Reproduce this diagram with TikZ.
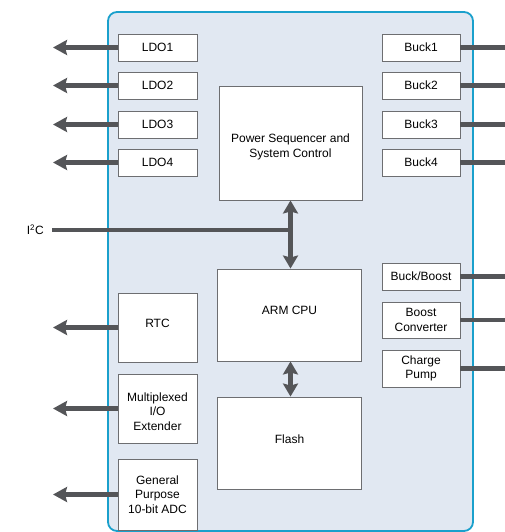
\documentclass[tikz,border=0pt]{standalone}
\usepackage{fontspec}
\setmainfont{Liberation Sans}
\usetikzlibrary{arrows.meta}
\definecolor{contfill}{HTML}{E1E8F2}
\definecolor{contline}{HTML}{1AA0CC}
\definecolor{boxline}{HTML}{6D6E71}
\definecolor{arrcol}{HTML}{545558}
\begin{document}
\begin{tikzpicture}[x=1pt,y=-1pt,
  blk/.style={draw=boxline, line width=0.9pt, fill=white, align=center,
    font=\fontsize{12}{14.5}\selectfont, inner sep=0pt},
  sig/.style={draw=arrcol, line width=4.2pt},
  outarr/.style={sig, -{Stealth[length=14pt,width=15pt,inset=2pt]}},
  biarr/.style={sig, {Stealth[length=13pt,width=15pt,inset=2pt]}-{Stealth[length=13pt,width=15pt,inset=2pt]}},
  lbl/.style={font=\fontsize{12}{14.5}\selectfont, inner sep=0pt, align=center}]
\useasboundingbox (0,0) rectangle (505,532);
% container
\draw[fill=contfill, draw=contline, line width=1.8pt, rounded corners=9pt] (108,12) rectangle (473,531);
% free ends
\coordinate (tipL) at (53,0);
\coordinate (edgeR) at (506,0);
% left blocks
\node[blk, minimum width=79pt, minimum height=27pt] (ldo1) at (157.5,47.5) {LDO1};
\node[blk, minimum width=79pt, minimum height=27pt] (ldo2) at (157.5,85.5) {LDO2};
\node[blk, minimum width=79pt, minimum height=27pt] (ldo3) at (157.5,124.5) {LDO3};
\node[blk, minimum width=79pt, minimum height=27pt] (ldo4) at (157.5,162.5) {LDO4};
\node[blk, minimum width=79pt, minimum height=69pt,
  label={[lbl,yshift=4pt]center:RTC}] (rtc) at (157.5,327.5) {};
\node[blk, minimum width=79pt, minimum height=69pt,
  label={[lbl,yshift=-3pt]center:Multiplexed\\I/O\\Extender}] (mux) at (157.5,408.5) {};
\node[blk, minimum width=79pt, minimum height=71pt] (adc) at (157.5,494.5) {General\\Purpose\\10-bit ADC};
% right blocks
\node[blk, minimum width=78pt, minimum height=27pt] (buck1) at (421,47.5) {Buck1};
\node[blk, minimum width=78pt, minimum height=27pt] (buck2) at (421,85.5) {Buck2};
\node[blk, minimum width=78pt, minimum height=27pt] (buck3) at (421,124.5) {Buck3};
\node[blk, minimum width=78pt, minimum height=27pt] (buck4) at (421,162.5) {Buck4};
\node[blk, minimum width=78pt, minimum height=27pt] (bb) at (421,276.5) {Buck/Boost};
\node[blk, minimum width=78pt, minimum height=36pt] (boost) at (421,320) {Boost\\Converter};
\node[blk, minimum width=78pt, minimum height=37pt] (cp) at (421,368.5) {Charge\\Pump};
% center blocks
\node[blk, minimum width=143pt, minimum height=114pt,
  label={[lbl,yshift=-4pt]center:Power Sequencer and\\System Control}] (psc) at (290.5,143) {};
\node[blk, minimum width=144pt, minimum height=92pt,
  label={[lbl,yshift=5pt]center:ARM CPU}] (arm) at (289.5,315) {};
\node[blk, minimum width=144pt, minimum height=92pt,
  label={[lbl,yshift=4pt]center:Flash}] (flash) at (289.5,443) {};
% I2C
\node[lbl, anchor=east] (i2c) at (44,230) {I\textsuperscript{2}C};
% left outputs
\foreach \n in {ldo1,ldo2,ldo3,ldo4,rtc,mux,adc}
  \draw[outarr] (\n.west) -- (\n.west -| tipL);
% right outputs
\foreach \n in {buck1,buck2,buck3,buck4,bb,boost,cp}
  \draw[sig] (\n.east) -- (\n.east -| edgeR);
% bus
\draw[sig] ([xshift=8pt]i2c.east) -- (i2c.east -| psc.south);
\draw[biarr] (psc.south) -- (psc.south |- arm.north);
\draw[biarr] (arm.south -| psc.south) -- (flash.north -| psc.south);
\end{tikzpicture}
\end{document}
